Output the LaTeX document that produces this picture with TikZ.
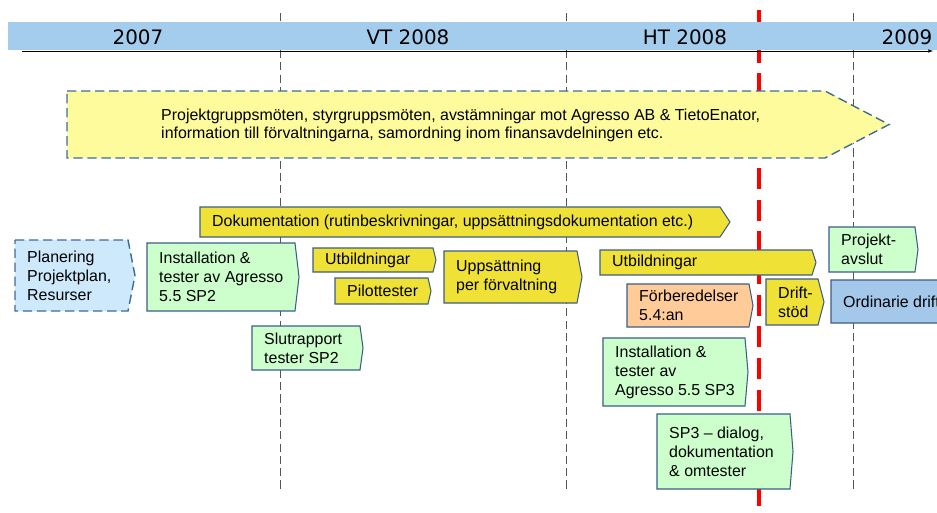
\documentclass[tikz,border=0pt]{standalone}
\usepackage{fontspec}
\setmainfont{Liberation Sans}
\newfontfamily\yearfont{DejaVu Sans}
\usetikzlibrary{arrows, calc, positioning}

\definecolor{bandBlue}{HTML}{A4CCEC}
\definecolor{frameBlue}{HTML}{3B5E86}
\definecolor{dashBlue}{HTML}{3F6B97}
\definecolor{paleYellow}{HTML}{FDFB9C}
\definecolor{stepYellow}{HTML}{EFE136}
\definecolor{stepGreen}{HTML}{CCFFCC}
\definecolor{stepOrange}{HTML}{FFCC99}
\definecolor{planBlue}{HTML}{CDE9FB}
\definecolor{driftBlue}{HTML}{A3C8EA}
\definecolor{gridGray}{HTML}{555555}

\tikzset{
    yellowStep/.style={draw=frameBlue, fill=stepYellow, line width=0.9pt},
    greenStep/.style={draw=frameBlue, fill=stepGreen, line width=0.9pt},
    orangeStep/.style={draw=frameBlue, fill=stepOrange, line width=0.9pt},
    driftStep/.style={draw=frameBlue, fill=driftBlue, line width=0.9pt},
    planStep/.style={draw=dashBlue, fill=planBlue, line width=1.2pt, dash pattern=on 8pt off 4pt},
    meetStep/.style={draw=dashBlue, fill=paleYellow, line width=1.2pt, dash pattern=on 8pt off 4pt},
    stepText/.style={anchor=west, align=left, inner sep=0pt, font=\fontsize{13.6}{16.2}\selectfont},
    yearText/.style={inner sep=0pt, font=\yearfont\fontsize{17}{20}\selectfont},
    gridLine/.style={gridGray, line width=0.6pt, dash pattern=on 7pt off 3.5pt},
    todayLine/.style={red, line width=3.4pt, dash pattern=on 18pt off 9pt},
}
\newcommand{\drawStep}[8][yellowStep]{
    % #2 namn, #3 vanster, #4 topp, #5 hoger, #6 spets, #7 botten, #8 text
    \draw[#1] (#3,#4) -- (#5,#4) -- (#6,{(#4+#7)/2}) -- (#5,#7) -- (#3,#7) -- cycle;
    \node[stepText] (#2) at ({#3+12},{(#4+#7)/2}) {#8};
}

\begin{document}
\begin{tikzpicture}[x=0.3mm, y=-0.3mm]

    \useasboundingbox (0,0) rectangle (937,512);
    \clip (0,0) rectangle (937,512);

    % tidslinjer
    \foreach \gx in {280, 566, 853}
        \draw[gridLine] (\gx,13) -- (\gx,490);
    \draw[todayLine] (759,10) -- (759,512);

    % tidsaxel
    \fill[bandBlue] (8,22) rectangle (937,50);
    \coordinate (axisStart) at (22,51);
    \coordinate (axisEnd) at (933,51);
    \draw[->, >=latex, thin] (axisStart) -- (axisEnd);
    \node[yearText] (y2007) at (138,37) {2007};
    \node[yearText] (vt2008) at (408,37) {VT 2008};
    \node[yearText] (ht2008) at (685,37) {HT 2008};
    \node[yearText] (y2009) at (907,37) {2009};

    % moten
    \draw[meetStep] (67,91) -- (825,91) -- (889,124.5) -- (825,158) -- (67,158) -- cycle;
    \node[stepText, font=\fontsize{13.6}{15}\selectfont] (meet) at (161,125.5)
        {Projektgruppsmöten, styrgruppsmöten, avstämningar mot Agresso AB \& TietoEnator,\\
         information till förvaltningarna, samordning inom finansavdelningen etc.};

    \drawStep{doc}{200}{207}{720}{730}{237}{Dokumentation (rutinbeskrivningar, uppsättningsdokumentation etc.)}
    \drawStep[planStep]{plan}{15}{240}{128}{135}{311}{Planering\\Projektplan,\\Resurser}
    \drawStep[greenStep]{instSP2}{147}{243}{295}{299}{311}{Installation \&\\tester av Agresso\\5.5 SP2}
    \drawStep{utb1}{313}{248}{433}{436}{272}{Utbildningar}
    \drawStep{pilot}{335}{278}{428}{431}{304}{Pilottester}
    \drawStep{upps}{444}{251}{577}{582}{303}{Uppsättning\\per förvaltning}
    \drawStep[greenStep]{slut}{252}{326}{360}{363}{370}{Slutrapport\\tester SP2}
    \drawStep{utb2}{600}{250}{812}{816}{275}{Utbildningar}
    \drawStep[greenStep]{avslut}{829}{227}{915}{918}{272}{Projekt-\\avslut}
    \drawStep[orangeStep]{forb}{627}{284}{749}{753}{327}{Förberedelser\\5.4:an}
    \drawStep{stod}{766}{279}{818}{824}{325}{Drift-\\stöd}
    \drawStep[driftStep]{drift}{831}{280}{990}{995}{323}{Ordinarie drift}
    \drawStep[greenStep]{instSP3}{603}{338}{745}{748}{406}{Installation \&\\tester av\\Agresso 5.5 SP3}
    \drawStep[greenStep]{dialog}{657}{414}{790}{793}{489}{SP3 – dialog,\\dokumentation\\\& omtester}

\end{tikzpicture}
\end{document}
